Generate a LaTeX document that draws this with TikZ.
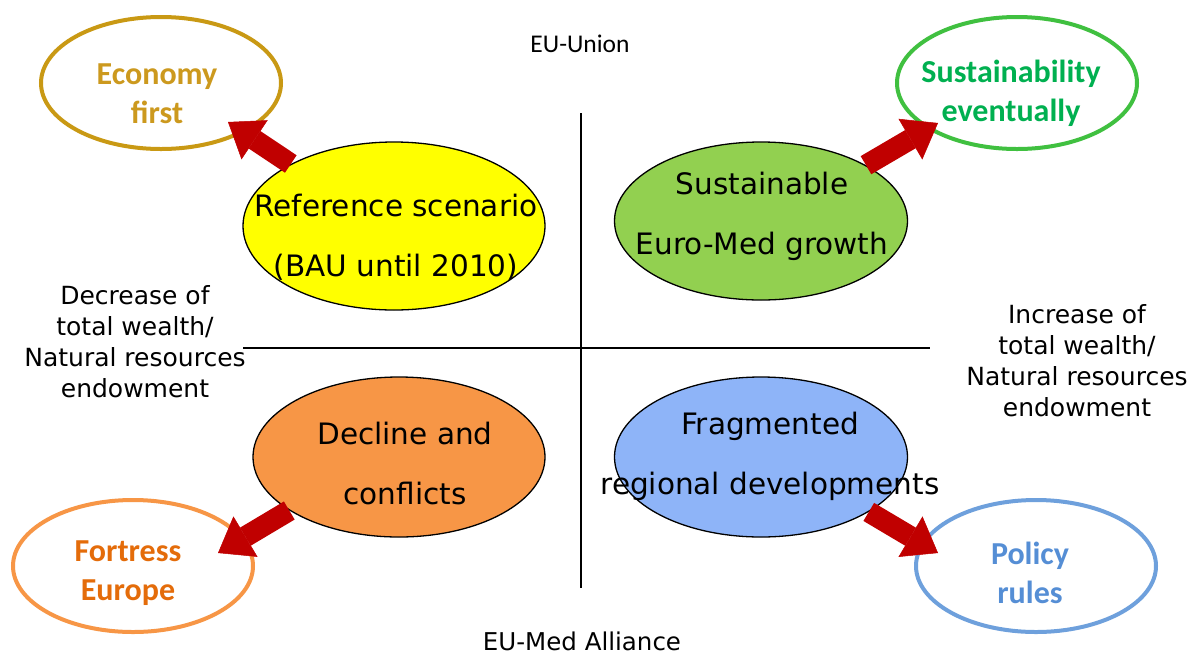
\documentclass[tikz,border=0pt]{standalone}
\usepackage{fontspec}
\setmainfont{DejaVu Sans}
\newfontfamily\calib{Carlito}
\usetikzlibrary{shapes.geometric,arrows.meta}
\definecolor{econC}{RGB}{201,153,20}
\definecolor{econT}{RGB}{204,153,30}
\definecolor{susC}{RGB}{64,192,64}
\definecolor{susT}{RGB}{0,176,80}
\definecolor{fortC}{RGB}{247,150,70}
\definecolor{fortT}{RGB}{228,108,10}
\definecolor{polC}{RGB}{110,160,220}
\definecolor{polT}{RGB}{85,142,213}
\definecolor{yel}{RGB}{255,255,0}
\definecolor{grn}{RGB}{146,208,80}
\definecolor{orn}{RGB}{247,150,70}
\definecolor{blu}{RGB}{142,180,248}
\definecolor{arr}{RGB}{192,0,0}
\begin{document}
\begin{tikzpicture}[x=1pt,y=-1pt,
  inner/.style={ellipse, draw=black, line width=1.3pt, inner sep=0pt},
  outer/.style={ellipse, line width=4pt, fill=white, inner sep=0pt, minimum width=240pt, minimum height=132pt},
  innertext/.style={align=center, font=\fontsize{29.5}{60}\selectfont, inner sep=0pt},
  outertext/.style={align=center, font=\calib\bfseries\fontsize{32}{39}\selectfont, inner sep=0pt},
  sidetext/.style={align=center, font=\fontsize{25}{31}\selectfont, inner sep=0pt},
  bigarrow/.style={draw=arr, line width=21pt, -{Triangle[length=32pt,width=47pt,line width=0.5pt]}},
  axis/.style={line width=2pt}]
\useasboundingbox (0,0) rectangle (1192,657);
% axes
\coordinate (vt) at (581,113);
\coordinate (vb) at (581,588);
\coordinate (hl) at (243,348);
\coordinate (hr) at (930,348);
\draw[axis] (vt) -- (vb);
\draw[axis] (hl) -- (hr);
% inner scenario ellipses
\node[inner, fill=yel, minimum width=302pt, minimum height=168pt] (ref) at (394,226) {};
\node[inner, fill=grn, minimum width=293pt, minimum height=158pt] (sus) at (761,221) {};
\node[inner, fill=orn, minimum width=292pt, minimum height=160pt] (dec) at (399,457) {};
\node[inner, fill=blu, minimum width=293pt, minimum height=160pt] (frag) at (761,457) {};
% outer ellipses
\node[outer, draw=econC] (econ) at (161,83) {};
\node[outer, draw=susC] (sev) at (1017,83) {};
\node[outer, draw=fortC] (fort) at (133,566) {};
\node[outer, draw=polC] (pol) at (1036,566) {};
% arrows
\coordinate (econTip) at (228,122);
\coordinate (sevTip) at (938,123);
\coordinate (fortTip) at (218,553);
\coordinate (polTip) at (938,553);
\draw[bigarrow] (ref.149) -- (econTip);
\draw[bigarrow] (sus.28) -- (sevTip);
\draw[bigarrow] (dec.206) -- (fortTip);
\draw[bigarrow] (frag.-27) -- (polTip);
% texts
\node[innertext] (refT) at (396,237) {Reference scenario\\(BAU until 2010)};
\node[innertext] (susT) at (762,216) {Sustainable\\Euro-Med growth};
\node[innertext] (decT) at (405,463) {Decline and\\conflicts};
\node[innertext] (fragT) at (770,456) {Fragmented\\regional developments};
\node[outertext, text=econT] (econT) at (157,94) {Economy\\first};
\node[outertext, text=susT] (sevT) at (1011,93) {Sustainability\\eventually};
\node[outertext, text=fortT] (fortT) at (128,573) {Fortress\\Europe};
\node[outertext, text=polT] (polT) at (1030,573) {Policy\\rules};
\node[sidetext] (left) at (135,342) {Decrease of\\total wealth/\\Natural resources\\endowment};
\node[sidetext] (right) at (1077,361) {Increase of\\total wealth/\\Natural resources\\endowment};
\node[font=\calib\fontsize{25.5}{30}\selectfont, inner sep=0pt] (top) at (580,44) {EU-Union};
\node[font=\fontsize{24.5}{30}\selectfont, inner sep=0pt] (bottom) at (582,641) {EU-Med Alliance};
\end{tikzpicture}
\end{document}
